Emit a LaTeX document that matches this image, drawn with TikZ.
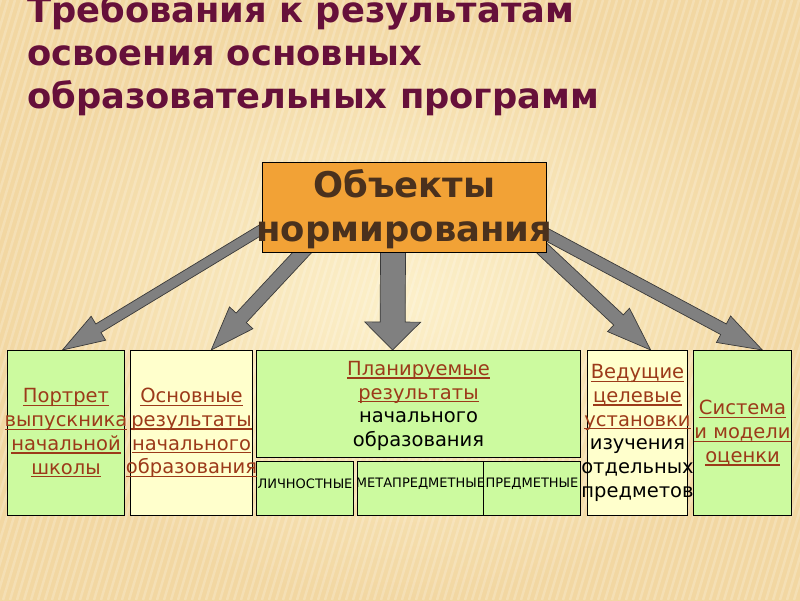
\documentclass[tikz,border=0pt]{standalone}
\usepackage{fontspec}
\setmainfont{DejaVu Sans}
\usepackage{tikz}
\usepackage{xcolor}
\usetikzlibrary{calc}

\definecolor{bgdark}{HTML}{F2D7A2}
\definecolor{bglight}{HTML}{FCF0CA}
\definecolor{titlered}{HTML}{66103A}
\definecolor{objorange}{HTML}{F2A236}
\definecolor{objbrown}{HTML}{4A311D}
\definecolor{boxgreen}{HTML}{CCFA9F}
\definecolor{boxcream}{HTML}{FFFFCC}
\definecolor{textred}{HTML}{9C3A1A}
\definecolor{arrowgray}{HTML}{808080}
\definecolor{arrowedge}{HTML}{3A3A3A}

\pgfdeclarelayer{backdrop}
\pgfdeclarelayer{arrows}
\pgfsetlayers{backdrop,arrows,main}

\newsavebox\ulbox
\newcommand\ul[1]{\sbox\ulbox{#1}\rlap{\rule[-3.2pt]{\wd\ulbox}{1.2pt}}\usebox\ulbox}
\newcommand\redul[1]{\textcolor{textred}{\ul{#1}}}

% block arrow: from, to, half shaft, half head, head length
\newcommand\blockarrow[5]{%
  \coordinate (ba-tail) at ($(#2)!1.12!(#1)$);
  \coordinate (ba-neck) at ($(#2)!#5!(#1)$);
  \filldraw[block-arrow] ($(ba-tail)!#3!-90:(#2)$) -- ($(ba-neck)!#3!-90:(#2)$)
    -- ($(ba-neck)!#4!-90:(#2)$) -- (#2) -- ($(ba-neck)!#4!90:(#2)$)
    -- ($(ba-neck)!#3!90:(#2)$) -- ($(ba-tail)!#3!90:(#2)$) -- cycle;}

\tikzset{
    title-text/.style = {text=titlered, font=\bfseries\fontsize{35.3}{43}\selectfont, align=left, inner sep=0pt, anchor=north west},
    orange-box/.style = {draw=black, fill=objorange, rectangle, line width=0.8pt, anchor=north west, minimum width=284pt, minimum height=90pt},
    orange-text/.style = {text=objbrown, font=\bfseries\fontsize{35.4}{44}\selectfont, align=center, inner sep=0pt},
    green-box/.style = {draw=black, fill=boxgreen, rectangle, line width=1pt, anchor=north west, inner sep=0pt},
    cream-box/.style = {green-box, fill=boxcream},
    box-text/.style = {text=black, font=\fontsize{19.5}{23.8}\selectfont, align=center, inner sep=0pt},
    small-text/.style = {text=black, font=\fontsize{13}{15}\selectfont, inner sep=0pt},
    block-arrow/.style = {fill=arrowgray, draw=arrowedge, line width=0.7pt},
    stripe/.style = {draw=white, opacity=0.2, line width=2.5pt},
}

\begin{document}
\begin{tikzpicture}[x=1pt, y=-1pt]
\useasboundingbox (0,0) rectangle (800,600);

\begin{pgfonlayer}{backdrop}
\shade[inner color=bglight, outer color=bgdark] (0,0) rectangle (800,600);
\foreach \x in {-200,-193,...,800}
    \draw[stripe] (\x,600) -- (\x+180,0);
\end{pgfonlayer}

% title
\node[title-text] (title) at (27,-6) {Требования к результатам\\освоения основных\\образовательных программ};

% top box
\node[orange-box] (obj) at (262,162) {};
\node[orange-text] (objtxt) at ([yshift=-2pt]obj.center) {Объекты\\нормирования};

% lower boxes
\node[green-box, minimum width=117pt, minimum height=165pt] (portret) at (7,350) {};
\node[cream-box, minimum width=122pt, minimum height=165pt] (osnov) at (130,350) {};
\node[green-box, minimum width=324pt, minimum height=107pt] (plan) at (256,350) {};
\node[green-box, minimum width=97pt, minimum height=54pt] (lichn) at (256,461) {};
\node[green-box, minimum width=126pt, minimum height=54pt] (meta) at (357,461) {};
\node[green-box, minimum width=97pt, minimum height=54pt] (predm) at (483,461) {};
\node[cream-box, minimum width=100pt, minimum height=165pt] (vedush) at (587,350) {};
\node[green-box, minimum width=98pt, minimum height=165pt] (sistema) at (693,350) {};

\node[box-text] (portret-txt) at (portret.center) {\redul{Портрет}\\\redul{выпускника}\\\redul{начальной}\\\redul{школы}};
\node[box-text] (osnov-txt) at (osnov.center) {\redul{Основные}\\\redul{результаты}\\\redul{начального}\\\redul{образования}};
\node[box-text] (plan-txt) at ([yshift=-2pt]plan.center) {\redul{Планируемые}\\\redul{результаты}\\начального\\образования};
\node[small-text] (lichn-txt) at ([yshift=5pt]lichn.center) {ЛИЧНОСТНЫЕ};
\node[small-text] (meta-txt) at ([yshift=5pt]meta.center) {МЕТАПРЕДМЕТНЫЕ};
\node[small-text] (predm-txt) at ([yshift=5pt]predm.center) {ПРЕДМЕТНЫЕ};
\node[box-text] (vedush-txt) at (vedush.center) {\redul{Ведущие}\\\redul{целевые}\\\redul{установки}\\изучения\\отдельных\\предметов};
\node[box-text] (sistema-txt) at (sistema.center) {\redul{Система}\\\redul{и модели}\\\redul{оценки}};

% arrows
\coordinate (obj-a1) at ($(obj.north west)!0.74!(obj.south west)$);
\coordinate (obj-a2) at ($(obj.south west)!0.14!(obj.south east)$);
\coordinate (obj-a3) at ($(obj.south west)!0.46!(obj.south east)$);
\coordinate (obj-a4) at (obj.south east);
\coordinate (obj-a5) at ($(obj.north east)!0.8!(obj.south east)$);
\coordinate (portret-in) at ($(portret.north west)!0.47!(portret.north east)$);
\coordinate (osnov-in) at ($(osnov.north west)!0.66!(osnov.north east)$);
\coordinate (plan-in) at ($(plan.north west)!0.42!(plan.north east)$);
\coordinate (vedush-in) at ($(vedush.north west)!0.63!(vedush.north east)$);
\coordinate (sistema-in) at ($(sistema.north west)!0.7!(sistema.north east)$);
\begin{pgfonlayer}{arrows}
\blockarrow{obj-a1}{portret-in}{5pt}{14pt}{42pt}
\blockarrow{obj-a2}{osnov-in}{7pt}{16pt}{44pt}
\blockarrow{obj-a3}{plan-in}{12.5pt}{28pt}{28pt}
\blockarrow{obj-a4}{vedush-in}{7pt}{16pt}{44pt}
\blockarrow{obj-a5}{sistema-in}{6pt}{15pt}{44pt}
\end{pgfonlayer}
\end{tikzpicture}
\end{document}
